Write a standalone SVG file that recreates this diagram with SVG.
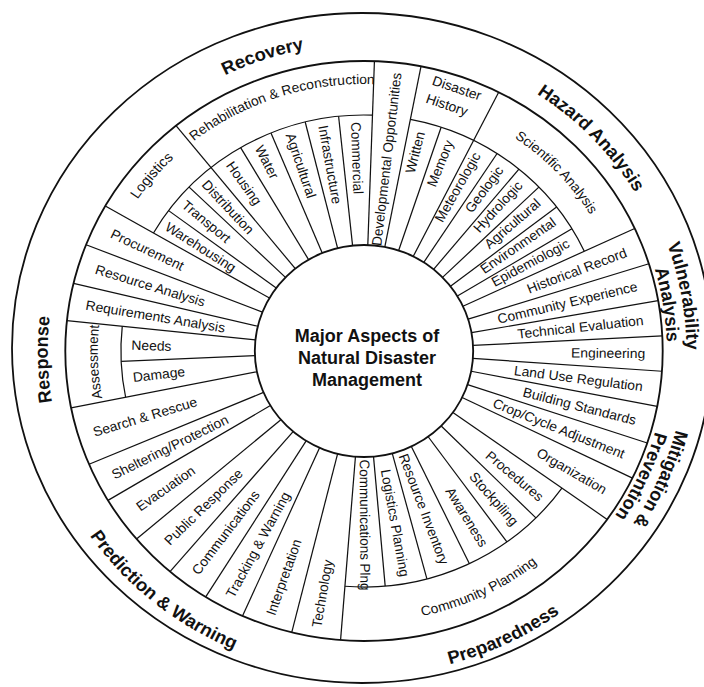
<svg xmlns="http://www.w3.org/2000/svg" width="704" height="687" viewBox="0 0 704 687">
<style>
text{font-family:"Liberation Sans",Arial,Helvetica,sans-serif;fill:#111}
.t{font-size:13.5px}
.cat{font-size:18px;font-weight:bold}
.ttl{font-size:18px;font-weight:bold}
.sp{stroke:#111;stroke-width:1.2;fill:none}
.rg{stroke:#111;stroke-width:1.8;fill:none}
</style>
<defs>
<line id="full" class="sp" x1="0" y1="-106" x2="0" y2="-290"/>
<line id="inner" class="sp" x1="0" y1="-106" x2="0" y2="-236"/>
<path id="cw307" d="M0,-307A307,307 0 1,1 0,307A307,307 0 1,1 0,-307"/>
<path id="cw313" d="M0,-313A313,313 0 1,1 0,313A313,313 0 1,1 0,-313"/>
<path id="cw294" d="M0,-294A294,294 0 1,1 0,294A294,294 0 1,1 0,-294"/>
<path id="cw267" d="M0,-267A267,267 0 1,1 0,267A267,267 0 1,1 0,-267"/>
<path id="cw267b" d="M0,267A267,267 0 1,1 0,-267A267,267 0 1,1 0,267"/>
<path id="cw258" d="M0,-258.5A258.5,258.5 0 1,1 0,258.5A258.5,258.5 0 1,1 0,-258.5"/>
<path id="ccw324" d="M0,324A324,324 0 1,0 0,-324A324,324 0 1,0 0,324"/>
<path id="ccw271" d="M0,271A271,271 0 1,0 0,-271A271,271 0 1,0 0,271"/>
</defs>
<rect width="704" height="687" fill="#fff"/>
<ellipse id="outer-ring" class="rg" cx="362" cy="348" rx="350" ry="335"/>
<g transform="translate(364 351) scale(1.03 1)">
  <g id="rings">
    <circle class="rg" r="290"/>
    <circle class="sp" r="236" pathLength="360" stroke-dasharray="62 400" transform="rotate(210)"/>
    <circle class="sp" r="236" pathLength="360" stroke-dasharray="54 400" transform="rotate(-79)"/>
    <circle class="sp" r="236" pathLength="360" stroke-dasharray="59 400" transform="rotate(35.5)"/>
    <circle class="sp" r="236" pathLength="360" stroke-dasharray="17.3 400" transform="rotate(168.7)"/>
  </g>
  <g id="connectors">
    <use href="#full" transform="rotate(2)"/>
    <use href="#full" transform="rotate(11)"/>
    <use href="#full" transform="rotate(26.8)"/>
    <use href="#full" transform="rotate(65)"/>
    <use href="#full" transform="rotate(72.5)"/>
    <use href="#full" transform="rotate(80)"/>
    <use href="#full" transform="rotate(87)"/>
    <use href="#full" transform="rotate(94)"/>
    <use href="#full" transform="rotate(101)"/>
    <use href="#full" transform="rotate(108.5)"/>
    <use href="#full" transform="rotate(116)"/>
    <use href="#full" transform="rotate(125.5)"/>
    <use href="#full" transform="rotate(184.5)"/>
    <use href="#full" transform="rotate(194)"/>
    <use href="#full" transform="rotate(204)"/>
    <use href="#full" transform="rotate(212)"/>
    <use href="#full" transform="rotate(220.5)"/>
    <use href="#full" transform="rotate(229.6)"/>
    <use href="#full" transform="rotate(239)"/>
    <use href="#full" transform="rotate(247)"/>
    <use href="#full" transform="rotate(258.7)"/>
    <use href="#full" transform="rotate(276)"/>
    <use href="#full" transform="rotate(283.5)"/>
    <use href="#full" transform="rotate(291.5)"/>
    <use href="#full" transform="rotate(300)"/>
    <use href="#full" transform="rotate(321)"/>
    <use href="#inner" transform="rotate(306.5)"/>
    <use href="#inner" transform="rotate(314)"/>
    <use href="#inner" transform="rotate(329.5)"/>
    <use href="#inner" transform="rotate(337.5)"/>
    <use href="#inner" transform="rotate(346)"/>
    <use href="#inner" transform="rotate(354)"/>
    <use href="#inner" transform="rotate(18.5)"/>
    <use href="#inner" transform="rotate(33.2)"/>
    <use href="#inner" transform="rotate(39.6)"/>
    <use href="#inner" transform="rotate(46)"/>
    <use href="#inner" transform="rotate(52.4)"/>
    <use href="#inner" transform="rotate(58.8)"/>
    <use href="#inner" transform="rotate(135)"/>
    <use href="#inner" transform="rotate(144)"/>
    <use href="#inner" transform="rotate(154.3)"/>
    <use href="#inner" transform="rotate(165)"/>
    <use href="#inner" transform="rotate(175)"/>
    <use href="#inner" transform="rotate(267.5)"/>
  </g>
  <circle id="hub" r="106" fill="#fff" stroke="#111" stroke-width="1.8"/>

  <g id="categories">
    <text class="cat" text-anchor="middle"><textPath href="#cw307" startOffset="94.86%">Recovery</textPath></text>
    <text class="cat" text-anchor="middle"><textPath href="#cw307" startOffset="12.78%">Hazard Analysis</textPath></text>
    <text class="cat" text-anchor="middle"><textPath href="#cw313" startOffset="22.2%">Vulnerability</textPath></text>
    <text class="cat" text-anchor="middle"><textPath href="#cw294" startOffset="22.5%">Analysis</textPath></text>
    <text class="cat" text-anchor="middle"><textPath href="#cw313" startOffset="31.67%">Mitigation &amp;</textPath></text>
    <text class="cat" text-anchor="middle"><textPath href="#cw294" startOffset="31.94%">Prevention</textPath></text>
    <text class="cat" text-anchor="middle"><textPath href="#ccw324" startOffset="7.06%">Preparedness</textPath></text>
    <text class="cat" text-anchor="middle"><textPath href="#ccw324" startOffset="89.14%">Prediction &amp; Warning</textPath></text>
    <text class="cat" text-anchor="middle"><textPath href="#cw307" startOffset="74.56%">Response</textPath></text>
  </g>

  <g id="recovery">
    <text class="t" style="font-size:14px" text-anchor="middle"><textPath href="#cw267" startOffset="86.22%">Logistics</textPath></text>
    <text class="t" text-anchor="middle"><textPath href="#cw267b" startOffset="45%">Rehabilitation &amp; Reconstruction</textPath></text>
    <text class="t" transform="rotate(303.25) translate(0,-229) rotate(90)" dy="0.35em">Warehousing</text>
    <text class="t" transform="rotate(310.25) translate(0,-229) rotate(90)" dy="0.35em">Transport</text>
    <text class="t" transform="rotate(317.5) translate(0,-229) rotate(90)" dy="0.35em">Distribution</text>
    <text class="t" transform="rotate(325.25) translate(0,-229) rotate(90)" dy="0.35em">Housing</text>
    <text class="t" transform="rotate(333.5) translate(0,-229) rotate(90)" dy="0.35em">Water</text>
    <text class="t" transform="rotate(341.75) translate(0,-229) rotate(90)" dy="0.35em">Agricultural</text>
    <text class="t" transform="rotate(350) translate(0,-229) rotate(90)" dy="0.35em">Infrastructure</text>
    <text class="t" transform="rotate(358) translate(0,-229) rotate(90)" dy="0.35em">Commercial</text>
    <text class="t" transform="rotate(6.5) translate(0,-193) rotate(-90)" text-anchor="middle" dy="0.35em">Developmental Opportunities</text>
  </g>

  <g id="hazard-analysis">
    <text class="t" transform="rotate(19) translate(0,-278)" x="-25" dy="0.35em">Disaster</text>
    <text class="t" transform="rotate(19) translate(0,-259)" x="-25" dy="0.35em">History</text>
    <text class="t" text-anchor="middle"><textPath href="#cw258" startOffset="12.86%">Scientific Analysis</textPath></text>
    <text class="t" transform="rotate(14) translate(0,-226) rotate(-90)" text-anchor="end" dy="0.35em">Written</text>
    <text class="t" transform="rotate(21.5) translate(0,-226) rotate(-90)" text-anchor="end" dy="0.35em">Memory</text>
    <text class="t" transform="rotate(29) translate(0,-226) rotate(-90)" text-anchor="end" dy="0.35em">Meteorologic</text>
    <text class="t" transform="rotate(35.8) translate(0,-226) rotate(-90)" text-anchor="end" dy="0.35em">Geologic</text>
    <text class="t" transform="rotate(42) translate(0,-226) rotate(-90)" text-anchor="end" dy="0.35em">Hydrologic</text>
    <text class="t" transform="rotate(48.5) translate(0,-226) rotate(-90)" text-anchor="end" dy="0.35em">Agricultural</text>
    <text class="t" transform="rotate(54.8) translate(0,-226) rotate(-90)" text-anchor="end" dy="0.35em">Environmental</text>
    <text class="t" transform="rotate(61.3) translate(0,-226) rotate(-90)" text-anchor="end" dy="0.35em">Epidemiologic</text>
  </g>

  <g id="vulnerability-analysis">
    <text class="t" transform="rotate(68.75) translate(0,-273) rotate(-90)" text-anchor="end" dy="0.35em">Historical Record</text>
    <text class="t" transform="rotate(76.25) translate(0,-273) rotate(-90)" text-anchor="end" dy="0.35em">Community Experience</text>
    <text class="t" transform="rotate(83.5) translate(0,-273) rotate(-90)" text-anchor="end" dy="0.35em">Technical Evaluation</text>
  </g>

  <g id="mitigation-prevention">
    <text class="t" transform="rotate(90.5) translate(0,-273) rotate(-90)" text-anchor="end" dy="0.35em">Engineering</text>
    <text class="t" transform="rotate(97.5) translate(0,-273) rotate(-90)" text-anchor="end" dy="0.35em">Land Use Regulation</text>
    <text class="t" transform="rotate(104.75) translate(0,-273) rotate(-90)" text-anchor="end" dy="0.35em">Building Standards</text>
    <text class="t" transform="rotate(112.25) translate(0,-273) rotate(-90)" text-anchor="end" dy="0.35em">Crop/Cycle Adjustment</text>
    <text class="t" transform="rotate(120.75) translate(0,-273) rotate(-90)" text-anchor="end" dy="0.35em">Organization</text>
  </g>

  <g id="preparedness">
    <text class="t" text-anchor="middle"><textPath href="#ccw271" startOffset="7%">Community Planning</textPath></text>
    <text class="t" transform="rotate(130.5) translate(0,-227) rotate(-90)" text-anchor="end" dy="0.35em">Procedures</text>
    <text class="t" transform="rotate(139.5) translate(0,-227) rotate(-90)" text-anchor="end" dy="0.35em">Stockpiling</text>
    <text class="t" transform="rotate(149) translate(0,-227) rotate(-90)" text-anchor="end" dy="0.35em">Awareness</text>
    <text class="t" transform="rotate(159.8) translate(0,-227) rotate(-90)" text-anchor="end" dy="0.35em">Resource Inventory</text>
    <text class="t" transform="rotate(170) translate(0,-229) rotate(-90)" text-anchor="end" dy="0.35em">Logistics Planning</text>
    <text class="t" transform="rotate(179.7) translate(0,-174) rotate(-90)" text-anchor="middle" dy="0.35em">Communications Plng</text>
  </g>

  <g id="prediction-warning">
    <text class="t" transform="rotate(189.5) translate(0,-280) rotate(90)" dy="0.35em">Technology</text>
    <text class="t" transform="rotate(199) translate(0,-279) rotate(90)" dy="0.35em">Interpretation</text>
    <text class="t" transform="rotate(208) translate(0,-278) rotate(90)" dy="0.35em">Tracking &amp; Warning</text>
    <text class="t" transform="rotate(216.5) translate(0,-276) rotate(90)" dy="0.35em">Communications</text>
    <text class="t" transform="rotate(225) translate(0,-271) rotate(90)" dy="0.35em">Public Response</text>
  </g>

  <g id="response">
    <text class="t" transform="rotate(234.5) translate(0,-270) rotate(90)" dy="0.35em">Evacuation</text>
    <text class="t" transform="rotate(243) translate(0,-274) rotate(90)" dy="0.35em">Sheltering/Protection</text>
    <text class="t" transform="rotate(252.8) translate(0,-275) rotate(90)" dy="0.35em">Search &amp; Rescue</text>
    <text class="t" text-anchor="middle"><textPath href="#cw258" startOffset="74.33%">Assessment</textPath></text>
    <text class="t" transform="rotate(263.3) translate(0,-226) rotate(90)" dy="0.35em">Damage</text>
    <text class="t" transform="rotate(271.5) translate(0,-226) rotate(90)" dy="0.35em">Needs</text>
    <text class="t" transform="rotate(279.7) translate(0,-274) rotate(90)" dy="0.35em">Requirements Analysis</text>
    <text class="t" transform="rotate(287.5) translate(0,-273) rotate(90)" dy="0.35em">Resource Analysis</text>
    <text class="t" transform="rotate(295.7) translate(0,-272) rotate(90)" dy="0.35em">Procurement</text>
  </g>
</g>
<g id="title">
  <text class="ttl" x="367" y="342" text-anchor="middle">Major Aspects of</text>
  <text class="ttl" x="367" y="364" text-anchor="middle">Natural Disaster</text>
  <text class="ttl" x="367" y="386" text-anchor="middle">Management</text>
</g>
</svg>
